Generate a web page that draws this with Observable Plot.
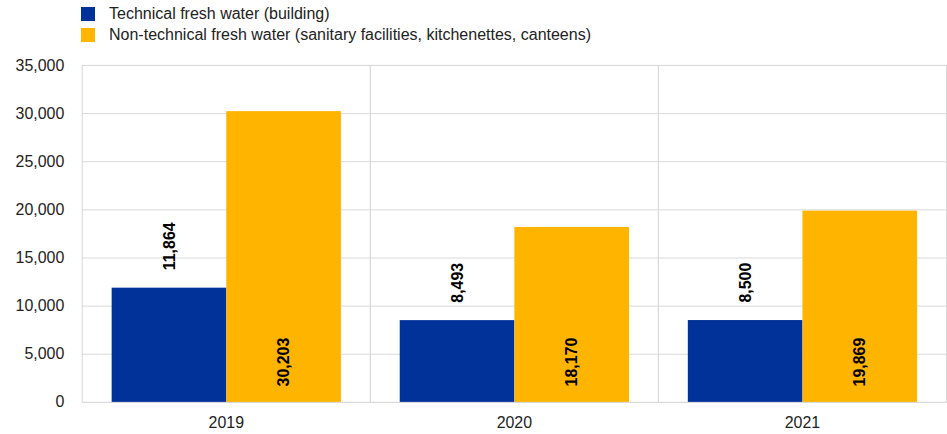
<!DOCTYPE html>
<html>
<head>
<meta charset="utf-8">
<script src="https://cdn.jsdelivr.net/npm/d3@7"></script>
<script src="https://cdn.jsdelivr.net/npm/@observablehq/plot@0.6"></script>
<style>
  body { margin: 0; overflow: hidden; background: #fff; font-family: "Liberation Sans", Arial, sans-serif; }
  #legend { position: relative; height: 50px; font-size: 16px; color: #222; }
  .item { position: absolute; left: 81px; display: flex; align-items: center; }
  .sw { width: 14px; height: 14px; margin-right: 14px; }
</style>
</head>
<body>
<div id="legend"></div>
<div id="chart"></div>
<script>
const years = ["2019", "2020", "2021"];
const seriesNames = ["Technical fresh water (building)", "Non-technical fresh water (sanitary facilities, kitchenettes, canteens)"];
const technical = [11864, 8493, 8500];
const nonTechnical = [30203, 18170, 19869];
const colors = ["#003299", "#FFB400"];
const yTicks = [0, 5000, 10000, 15000, 20000, 25000, 30000, 35000];

const data = [];
years.forEach((yr, i) => {
  data.push({year: yr, series: seriesNames[0], value: technical[i]});
  data.push({year: yr, series: seriesNames[1], value: nonTechnical[i]});
});

const legend = document.getElementById("legend");
seriesNames.forEach((s, i) => {
  const d = document.createElement("div");
  d.className = "item";
  d.style.top = (i === 0 ? 5 : 26) + "px";
  d.innerHTML = `<span class="sw" style="background:${colors[i]}"></span><span>${s}</span>`;
  legend.appendChild(d);
});

const fmt = d3.format(",");
const chart = Plot.plot({
  width: 950,
  height: 384,
  marginLeft: 81,
  marginRight: 0,
  marginTop: 15,
  marginBottom: 31,
  style: {fontFamily: "Liberation Sans, Arial, sans-serif", fontSize: "16px", color: "#222", background: "#fff"},
  fx: {domain: years, padding: 0, label: null, axis: "bottom", tickSize: 0, tickPadding: 14},
  x: {domain: seriesNames, paddingInner: 0, paddingOuter: 0.25, axis: null},
  y: {domain: [0, 35000], ticks: yTicks, tickFormat: fmt, tickSize: 0, tickPadding: 18, label: null},
  color: {domain: seriesNames, range: colors},
  marks: [
    Plot.gridY(yTicks, {stroke: "#d9d9d9", strokeOpacity: 1, strokeWidth: 1}),
    Plot.frame({stroke: "#d9d9d9", strokeWidth: 1}),
    Plot.barY(data, {fx: "year", x: "series", y: "value", fill: "series"}),
    Plot.text(data.filter(d => d.series === seriesNames[0]), {
      fx: "year", x: "series", y: "value", text: d => fmt(d.value),
      rotate: -90, textAnchor: "start", dy: -18, fontWeight: "bold", fontSize: 16, fill: "#000"
    }),
    Plot.text(data.filter(d => d.series === seriesNames[1]), {
      fx: "year", x: "series", y: 0, text: d => fmt(d.value),
      rotate: -90, textAnchor: "start", dy: -16, fontWeight: "bold", fontSize: 16, fill: "#000"
    })
  ]
});
document.getElementById("chart").appendChild(chart);
</script>
</body>
</html>
